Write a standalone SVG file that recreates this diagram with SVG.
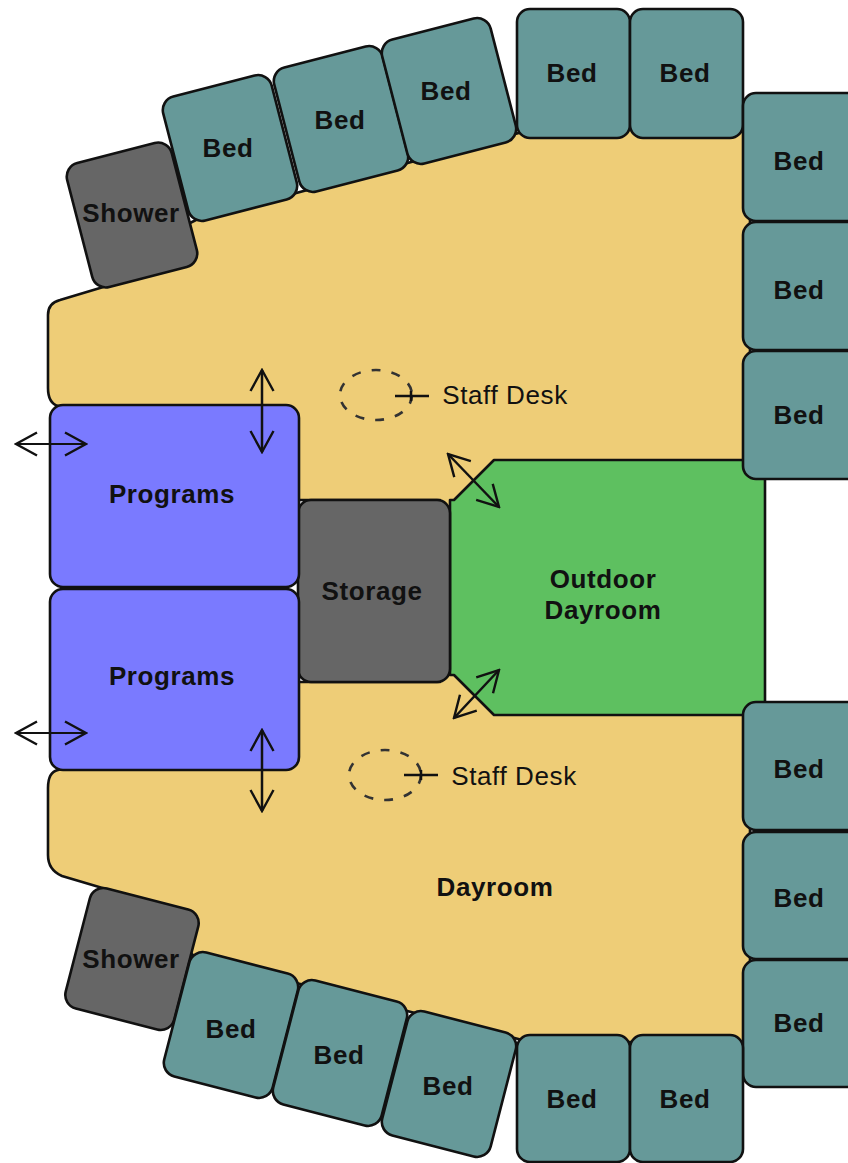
<svg xmlns="http://www.w3.org/2000/svg" width="848" height="1163" viewBox="0 0 848 1163">
<style>
.o{stroke:#111;stroke-width:2.6;stroke-linejoin:round}
.bed{fill:#669999}.gray{fill:#666666}.prog{fill:#7a7aff}
text{font-family:"Liberation Sans",Arial,sans-serif;font-size:26px;text-anchor:middle;fill:#111;letter-spacing:.6px}
.b{font-weight:bold}
.l{fill:none;stroke:#111;stroke-width:2.5}
.t{stroke-width:2}
.d{fill:none;stroke:#333;stroke-width:2.6;stroke-dasharray:9 11}
</style>
<defs>
<marker id="a" viewBox="0 0 24 26" refX="22" refY="13" markerWidth="24" markerHeight="26" markerUnits="userSpaceOnUse" orient="auto-start-reverse"><path d="M1 1.5L22 13L1 24.5" fill="none" stroke="#111" stroke-width="2.4"/></marker>
</defs>
<rect width="848" height="1163" fill="#fff"/>
<g id="dayroom"><path class="o" fill="#eecd77" d="M530 130H750V1042H530L197 958L180 945V911L62 876Q48 870 48 855V788Q48 772 58 770L62 768H280V682H440V500H280V408H62L58 406Q48 403 48 388V315Q48 303 60 300L180 264V228L196 220Z"/><text class="b" x="495" y="896">Dayroom</text></g>
<g id="outdoor"><path class="o" fill="#5ec060" d="M494 460H765V715H494L454 675H450V500H454Z"/><text class="b" x="603" y="588">Outdoor</text><text class="b" x="603" y="619">Dayroom</text></g>
<g id="storage"><rect class="o gray" x="298" y="500" width="152" height="182" rx="13"/><text class="b" x="372" y="600">Storage</text></g>
<g id="programs1"><rect class="o prog" x="50" y="405" width="249" height="182" rx="13"/><text class="b" x="172" y="503">Programs</text></g>
<g id="programs2"><rect class="o prog" x="50" y="589" width="249" height="181" rx="13"/><text class="b" x="172" y="685">Programs</text></g>
<g id="shower1"><rect class="o gray" x="-54" y="-64" width="108" height="128" rx="14" transform="translate(132 215) rotate(-14.5)"/><text class="b" x="131" y="222">Shower</text></g>
<g id="shower2"><rect class="o gray" x="-56" y="-62" width="112" height="124" rx="14" transform="translate(132 959) rotate(14.5)"/><text class="b" x="131" y="968">Shower</text></g>
<g id="bed1"><rect class="o bed" x="-56" y="-64" width="112" height="128" rx="14" transform="translate(230 148) rotate(-14.5)"/><text class="b" x="228" y="157">Bed</text></g>
<g id="bed2"><rect class="o bed" x="-56" y="-64" width="112" height="128" rx="14" transform="translate(341 119) rotate(-14.5)"/><text class="b" x="340" y="129">Bed</text></g>
<g id="bed3"><rect class="o bed" x="-56" y="-64" width="112" height="128" rx="14" transform="translate(449 91) rotate(-14.5)"/><text class="b" x="446" y="100">Bed</text></g>
<g id="bed4"><rect class="o bed" x="517" y="9" width="113" height="129" rx="13"/><text class="b" x="572" y="82">Bed</text></g>
<g id="bed5"><rect class="o bed" x="630" y="9" width="113" height="129" rx="13"/><text class="b" x="685" y="82">Bed</text></g>
<g id="bed6"><rect class="o bed" x="743" y="93" width="120" height="128" rx="13"/><text class="b" x="799" y="170">Bed</text></g>
<g id="bed7"><rect class="o bed" x="743" y="222" width="120" height="128" rx="13"/><text class="b" x="799" y="299">Bed</text></g>
<g id="bed8"><rect class="o bed" x="743" y="351" width="120" height="128" rx="13"/><text class="b" x="799" y="424">Bed</text></g>
<g id="bed9"><rect class="o bed" x="743" y="702" width="120" height="128" rx="13"/><text class="b" x="799" y="778">Bed</text></g>
<g id="bed10"><rect class="o bed" x="743" y="832" width="120" height="127" rx="13"/><text class="b" x="799" y="907">Bed</text></g>
<g id="bed11"><rect class="o bed" x="743" y="960" width="120" height="127" rx="13"/><text class="b" x="799" y="1032">Bed</text></g>
<g id="bed12"><rect class="o bed" x="517" y="1035" width="113" height="127" rx="13"/><text class="b" x="572" y="1108">Bed</text></g>
<g id="bed13"><rect class="o bed" x="630" y="1035" width="113" height="127" rx="13"/><text class="b" x="685" y="1108">Bed</text></g>
<g id="bed14"><rect class="o bed" x="-56" y="-64" width="112" height="128" rx="14" transform="translate(231 1025) rotate(14.5)"/><text class="b" x="231" y="1038">Bed</text></g>
<g id="bed15"><rect class="o bed" x="-56" y="-64" width="112" height="128" rx="14" transform="translate(340 1053) rotate(14.5)"/><text class="b" x="339" y="1064">Bed</text></g>
<g id="bed16"><rect class="o bed" x="-56" y="-64" width="112" height="128" rx="14" transform="translate(449 1084) rotate(14.5)"/><text class="b" x="448" y="1095">Bed</text></g>
<g id="desk1"><ellipse class="d" cx="376" cy="395" rx="36" ry="25"/><path class="l" d="M395 396H429M411 391V401"/><text x="505" y="404">Staff Desk</text></g>
<g id="desk2"><ellipse class="d" cx="385" cy="775" rx="36" ry="25"/><path class="l" d="M404 775H438M421 770V780"/><text x="514" y="785">Staff Desk</text></g>
<g id="connectors">
<path class="l" d="M262 370V452" marker-start="url(#a)" marker-end="url(#a)"/>
<path class="l t" d="M16 444H86" marker-start="url(#a)" marker-end="url(#a)"/>
<path class="l t" d="M16 733H86" marker-start="url(#a)" marker-end="url(#a)"/>
<path class="l" d="M262 730V811" marker-start="url(#a)" marker-end="url(#a)"/>
<path class="l" d="M448 454L499 507" marker-start="url(#a)" marker-end="url(#a)"/>
<path class="l" d="M499 670L454 718" marker-start="url(#a)" marker-end="url(#a)"/>
</g>
</svg>
